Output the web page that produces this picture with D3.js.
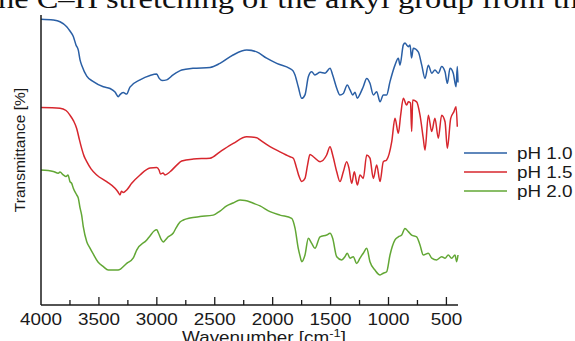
<!DOCTYPE html>
<html>
<head>
<meta charset="utf-8">
<script src="https://cdn.jsdelivr.net/npm/d3@7/dist/d3.min.js"></script>
<style>
  html, body { margin: 0; padding: 0; background: #fff; overflow: hidden; }
  svg { display: block; }
</style>
</head>
<body>
<div id="chart"></div>
<script>
// x axis ticks
var majorTicks = [4000, 3500, 3000, 2500, 2000, 1500, 1000, 500];
var minorTicks = [3750, 3250, 2750, 2250, 1750, 1250, 750];

var seriesNames = ["pH 1.0", "pH 1.5", "pH 2.0"];

// pH 1.0
var wavePH10 = [4000, 3895, 3836, 3778, 3750, 3721, 3698, 3678, 3663, 3646, 3605, 3548, 3462, 3404, 3361, 3333, 3318, 3290, 3260, 3232,
  3145, 3059, 3001, 2981, 2955, 2915, 2860, 2785, 2688, 2541, 2455, 2342, 2224, 2138, 2052, 1965, 1850, 1824, 1807, 1779,
  1749, 1721, 1692, 1663, 1635, 1591, 1548, 1505, 1482, 1447, 1419, 1390, 1356, 1332, 1309, 1289, 1269, 1246, 1218, 1188,
  1160, 1131, 1102, 1073, 1045, 1016, 987, 944, 915, 901, 872, 857, 843, 829, 814, 801, 786, 743, 713, 685,
  656, 627, 599, 570, 541, 512, 492, 469, 441, 417, 406, 400];
var transPH10 = [98.9, 98.6, 98.0, 96.3, 94.8, 92.9, 90.0, 88.2, 84.8, 82.7, 79.2, 77.3, 75.5, 74.9, 73.7, 72.1, 72.8, 73.5, 73.0, 75.4,
  77.9, 79.4, 79.9, 78.5, 77.7, 77.9, 79.6, 81.3, 81.9, 82.2, 83.6, 86.5, 88.2, 87.6, 85.4, 83.6, 81.8, 81.0, 79.6, 75.5,
  71.5, 72.7, 79.0, 80.7, 79.6, 80.5, 80.2, 81.9, 79.6, 75.0, 72.7, 73.2, 76.1, 74.4, 72.7, 73.6, 71.5, 73.0, 75.5, 78.4,
  76.7, 72.7, 73.8, 70.3, 72.7, 72.7, 77.3, 83.0, 85.4, 83.0, 90.0, 90.7, 90.0, 89.4, 90.0, 85.5, 88.8, 87.6, 83.0, 78.4,
  83.0, 80.2, 81.3, 80.2, 82.5, 80.7, 76.7, 81.9, 80.2, 75.5, 82.5, 77.0];

// pH 1.5
var wavePH15 = [4000, 3836, 3784, 3750, 3719, 3692, 3672, 3649, 3629, 3605, 3568, 3519, 3433, 3361, 3335, 3318, 3305, 3290, 3260, 3217,
  3145, 3059, 3001, 2981, 2968, 2947, 2930, 2886, 2828, 2785, 2685, 2541, 2455, 2340, 2224, 2138, 2109, 2023, 1937, 1850,
  1822, 1793, 1773, 1749, 1721, 1699, 1678, 1649, 1591, 1534, 1505, 1482, 1447, 1419, 1390, 1361, 1341, 1318, 1295, 1269,
  1246, 1218, 1188, 1160, 1131, 1102, 1073, 1045, 1016, 972, 944, 915, 895, 872, 843, 829, 810, 800, 791, 757,
  728, 700, 685, 656, 627, 599, 570, 541, 512, 492, 463, 435, 417, 406];
var transPH15 = [68.3, 68.1, 67.3, 65.7, 63.7, 61.1, 57.8, 54.2, 51.6, 49.6, 47.1, 45.0, 42.7, 40.4, 39.1, 38.1, 39.4, 38.9, 39.8, 42.1,
  45.0, 47.4, 47.6, 46.7, 45.3, 45.7, 45.0, 46.1, 48.4, 49.8, 50.5, 50.8, 53.0, 55.9, 58.2, 57.9, 57.1, 54.8, 53.0, 51.3,
  50.8, 47.3, 44.6, 42.7, 43.8, 48.4, 52.1, 51.3, 49.6, 51.9, 54.8, 51.9, 46.1, 42.7, 46.1, 49.6, 47.3, 42.1, 46.1, 41.5,
  45.0, 43.8, 51.9, 50.8, 43.8, 48.4, 42.7, 49.6, 50.2, 56.5, 64.6, 59.4, 65.7, 71.5, 69.2, 70.3, 69.9, 60.0, 70.9, 70.3,
  65.7, 57.7, 53.6, 65.7, 60.0, 64.6, 57.7, 65.7, 63.4, 54.2, 64.6, 66.9, 68.6, 61.7];

// pH 2.0
var wavePH20 = [4000, 3894, 3851, 3836, 3807, 3784, 3767, 3750, 3735, 3721, 3692, 3678, 3663, 3649, 3635, 3605, 3577, 3548, 3508, 3462,
  3419, 3333, 3318, 3303, 3260, 3203, 3174, 3087, 3059, 3024, 3001, 2986, 2964, 2944, 2930, 2904, 2858, 2835, 2800, 2771,
  2714, 2627, 2513, 2455, 2397, 2342, 2282, 2239, 2167, 2109, 2023, 1937, 1836, 1807, 1779, 1764, 1749, 1721, 1692, 1663,
  1635, 1591, 1534, 1505, 1482, 1447, 1404, 1376, 1356, 1332, 1304, 1275, 1246, 1218, 1188, 1160, 1117, 1073, 1045, 1016,
  987, 944, 915, 886, 858, 829, 800, 757, 728, 700, 656, 627, 584, 541, 512, 484, 455, 426, 411, 400];
var transPH20 = [46.7, 46.2, 45.6, 46.0, 45.0, 44.5, 45.0, 42.7, 42.1, 40.4, 38.1, 37.0, 33.6, 31.1, 27.1, 21.9, 19.7, 17.6, 14.9, 13.3,
  12.1, 12.1, 12.3, 12.8, 14.4, 16.3, 19.0, 22.5, 23.9, 25.6, 26.0, 24.9, 22.8, 21.8, 22.3, 23.5, 24.9, 26.6, 28.7, 29.4,
  30.1, 30.6, 31.1, 32.5, 34.3, 35.3, 36.3, 36.2, 35.2, 34.3, 32.3, 31.1, 30.0, 26.6, 19.6, 17.0, 15.0, 17.3, 23.1, 21.3,
  19.6, 23.6, 24.2, 24.8, 23.1, 16.7, 15.6, 16.7, 17.9, 16.2, 16.7, 14.4, 16.2, 17.9, 19.6, 15.0, 12.1, 10.4, 11.0, 11.5,
  17.3, 22.5, 23.6, 24.2, 26.5, 25.4, 24.2, 23.6, 20.8, 17.3, 17.9, 16.2, 15.6, 16.7, 16.2, 17.3, 16.2, 17.3, 15.0, 17.3];

var colors = ["#2a5fa5", "#d7262d", "#62a735"];

var width = 575, height = 341;
var stretch = 1.18; // text in the picture is a bit wide

var svg = d3.select("#chart").append("svg")
  .attr("width", width)
  .attr("height", height);

// scales
var x = d3.scaleLinear().domain([4000, 400]).range([41, 458]);
var y = d3.scaleLinear().domain([0, 100]).range([305, 16]);

// cut-off caption line from the page above the figure
svg.append("text")
  .attr("transform", "translate(-11,8) scale(" + stretch + ",1)")
  .style("font-family", "'Liberation Serif', 'Times New Roman', serif")
  .style("font-size", "27.5px")
  .style("fill", "#111")
  .text("the C\u2013H stretching of the alkyl group from the");

// spectra
var line = d3.line()
  .x(function (d) { return x(d.w); })
  .y(function (d) { return y(d.t); })
  .curve(d3.curveMonotoneX);

var allSeries = [
  { waves: wavePH10, trans: transPH10 },
  { waves: wavePH15, trans: transPH15 },
  { waves: wavePH20, trans: transPH20 }
];

allSeries.forEach(function (s, i) {
  var data = s.waves.map(function (w, j) { return { w: w, t: s.trans[j] }; });
  svg.append("path")
    .datum(data)
    .attr("d", line)
    .style("fill", "none")
    .style("stroke", colors[i])
    .style("stroke-width", 1.5)
    .style("stroke-linejoin", "round");
});

// axes
var axisColor = "#1a1a1a";
svg.append("line")
  .attr("x1", x(4000)).attr("x2", x(4000))
  .attr("y1", 15).attr("y2", y(0))
  .style("stroke", axisColor).style("stroke-width", 1.5);
svg.append("line")
  .attr("x1", x(4000)).attr("x2", x(400))
  .attr("y1", y(0)).attr("y2", y(0))
  .style("stroke", axisColor).style("stroke-width", 1.5);

svg.selectAll(".major")
  .data(majorTicks.filter(function (d) { return d !== 4000; }))
  .enter().append("line")
  .attr("class", "major")
  .attr("x1", function (d) { return x(d); })
  .attr("x2", function (d) { return x(d); })
  .attr("y1", y(0)).attr("y2", y(0) - 8)
  .style("stroke", axisColor).style("stroke-width", 1.3);

svg.selectAll(".minor")
  .data(minorTicks)
  .enter().append("line")
  .attr("class", "minor")
  .attr("x1", function (d) { return x(d); })
  .attr("x2", function (d) { return x(d); })
  .attr("y1", y(0)).attr("y2", y(0) - 5)
  .style("stroke", axisColor).style("stroke-width", 1.3);

var sans = "'Liberation Sans', Arial, Helvetica, sans-serif";

svg.selectAll(".tick-label")
  .data(majorTicks)
  .enter().append("text")
  .attr("class", "tick-label")
  .attr("transform", function (d) { return "translate(" + x(d) + ",325) scale(" + stretch + ",1)"; })
  .style("text-anchor", "middle")
  .style("font-family", sans)
  .style("font-size", "16px")
  .style("fill", "#1a1a1a")
  .text(function (d) { return d; });

// axis titles
var xt = svg.append("text")
  .attr("transform", "translate(264,343) scale(" + stretch + ",1)")
  .style("text-anchor", "middle")
  .style("font-family", sans)
  .style("font-size", "16px")
  .style("fill", "#1a1a1a");
xt.append("tspan").text("Wavenumber [cm");
xt.append("tspan").attr("dy", -6).style("font-size", "11px").text("-1");
xt.append("tspan").attr("dy", 6).text("]");

svg.append("text")
  .attr("transform", "translate(25,150) rotate(-90)")
  .style("text-anchor", "middle")
  .style("font-family", sans)
  .style("font-size", "15.5px")
  .style("fill", "#1a1a1a")
  .text("Transmittance [%]");

// legend
var legendY = [153, 172, 191];
seriesNames.forEach(function (name, i) {
  svg.append("line")
    .attr("x1", 464).attr("x2", 507)
    .attr("y1", legendY[i]).attr("y2", legendY[i])
    .style("stroke", colors[i])
    .style("stroke-width", 1.5);
  svg.append("text")
    .attr("transform", "translate(517," + (legendY[i] + 6) + ") scale(" + stretch + ",1)")
    .style("font-family", sans)
    .style("font-size", "16px")
    .style("fill", "#1a1a1a")
    .text(name);
});
</script>
</body>
</html>
